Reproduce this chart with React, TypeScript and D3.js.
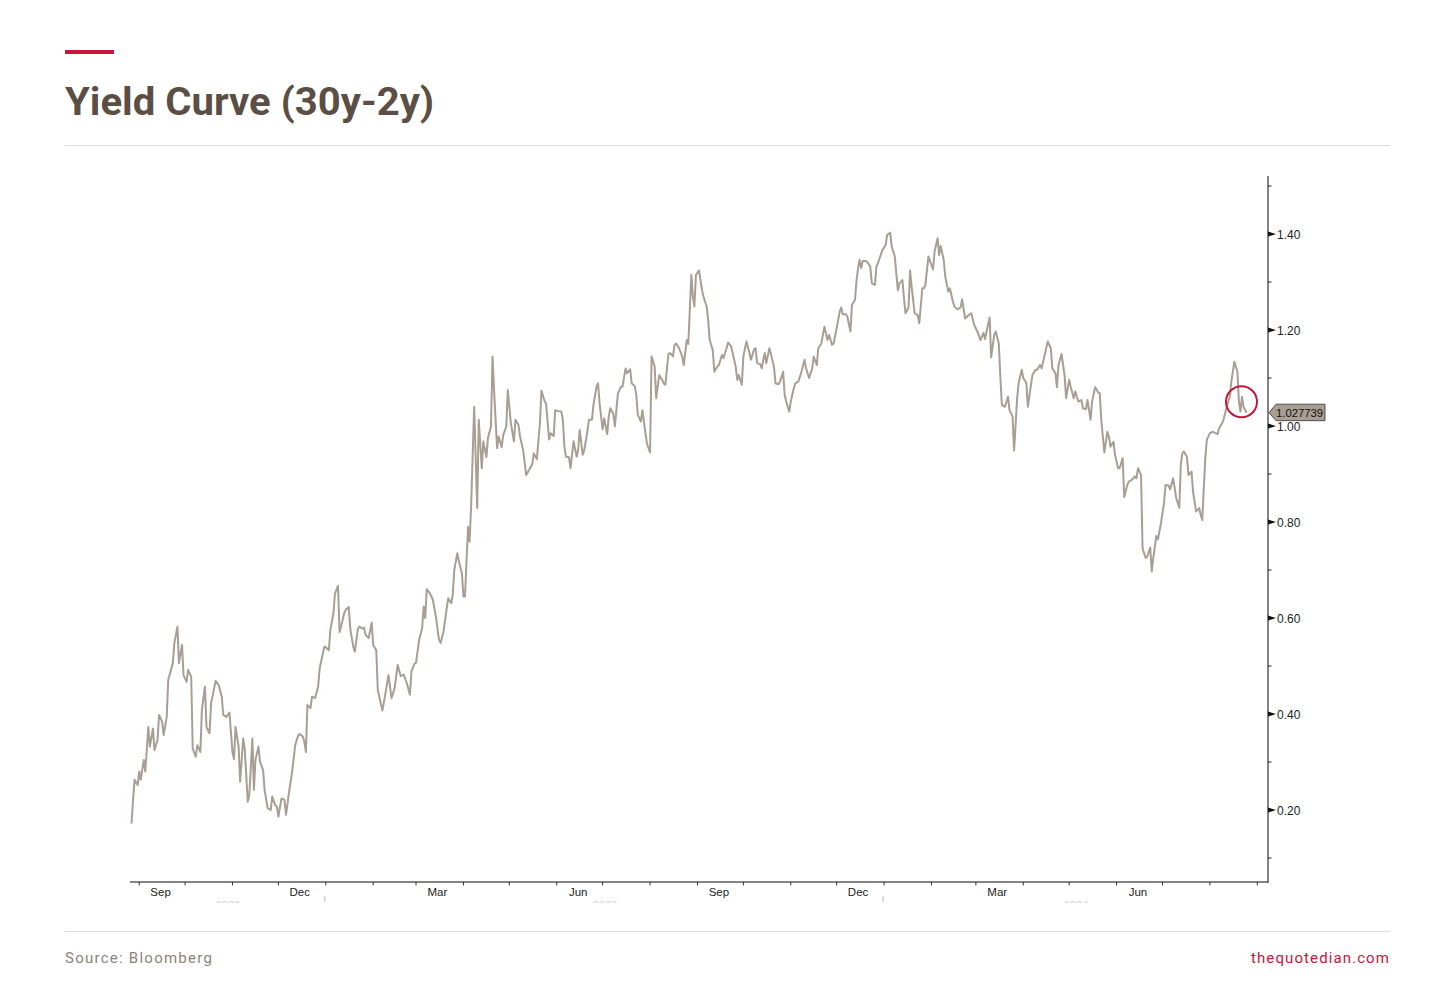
import React from 'react';
import * as d3 from 'd3';

// ---------- DATA ----------
const START_DATE = '2022-08-26';
const END_DATE = '2024-09-08';

// days since START_DATE
const seriesDays = [
  1, 2, 3, 5, 6, 7, 9, 10, 12, 13, 15, 16, 18, 19, 21, 22, 24, 25, 28, 29, 31, 32, 34, 35, 37, 38, 40, 41, 43, 44,
  46, 47, 49, 50, 52, 53, 56, 58, 60, 61, 63, 65, 67, 68, 69, 71, 72, 74, 75, 77, 78, 80, 81, 82, 84, 85, 87, 88, 90, 92,
  93, 95, 96, 97, 99, 101, 102, 104, 106, 108, 110, 111, 113, 114, 115, 116, 118, 119, 121, 123, 124, 127, 128, 130, 131, 133, 134, 136, 137, 138,
  140, 141, 143, 144, 146, 147, 149, 150, 152, 153, 154, 156, 158, 159, 161, 162, 165, 167, 169, 171, 173, 175, 177, 179, 181, 183, 184, 186, 187, 189,
  191, 192, 193, 194, 196, 198, 200, 202, 203, 205, 206, 208, 210, 211, 212, 214, 215, 217, 218, 219, 221, 222, 223, 225, 227, 228, 230, 231, 233, 234,
  236, 237, 238, 240, 241, 243, 244, 246, 247, 249, 251, 252, 254, 255, 257, 259, 261, 263, 264, 266, 268, 269, 271, 272, 274, 275, 277, 278, 280, 282,
  283, 284, 285, 287, 288, 290, 292, 293, 294, 296, 297, 299, 300, 302, 303, 305, 306, 307, 309, 310, 312, 313, 314, 316, 317, 319, 321, 322, 324, 325,
  327, 328, 330, 331, 332, 334, 335, 337, 338, 340, 341, 343, 344, 346, 348, 349, 350, 352, 353, 355, 356, 357, 359, 361, 362, 364, 365, 367, 368, 369,
  370, 372, 374, 375, 377, 378, 379, 381, 382, 384, 385, 387, 388, 390, 391, 393, 394, 396, 397, 398, 400, 401, 403, 405, 406, 408, 409, 410, 412, 413,
  415, 416, 418, 419, 421, 422, 424, 425, 427, 428, 429, 431, 432, 434, 435, 437, 439, 441, 442, 444, 446, 447, 449, 450, 452, 453, 454, 456, 457, 459,
  460, 462, 464, 465, 466, 468, 469, 471, 472, 474, 475, 476, 477, 478, 479, 481, 482, 484, 485, 487, 488, 489, 490, 492, 494, 495, 497, 498, 500, 502,
  503, 505, 506, 507, 509, 510, 511, 513, 514, 515, 516, 518, 519, 520, 522, 523, 525, 526, 528, 529, 530, 532, 533, 535, 536, 538, 539, 541, 543, 544,
  546, 548, 550, 552, 554, 556, 558, 559, 560, 562, 563, 565, 566, 568, 569, 570, 572, 574, 575, 577, 578, 580, 581, 583, 584, 586, 587, 589, 590, 592,
  593, 595, 596, 598, 600, 602, 603, 605, 606, 607, 609, 611, 612, 614, 615, 617, 618, 620, 622, 623, 625, 626, 628, 629, 631, 633, 634, 635, 637, 639,
  640, 641, 643, 644, 646, 647, 649, 650, 652, 653, 655, 657, 658, 659, 661, 662, 664, 665, 667, 668, 669, 671, 672, 674, 676, 677, 679, 680, 682, 684,
  686, 687, 688, 689, 691, 692, 694, 695, 697, 699, 700, 701, 703, 704, 706, 708, 709, 711, 712, 714, 715, 717, 719, 720, 721, 722, 724, 725, 726, 727,
  728, 730,
];

const seriesValues = [
  0.172, 0.221, 0.263, 0.252, 0.28, 0.263, 0.304, 0.28, 0.373, 0.332, 0.37, 0.325, 0.346, 0.398, 0.384, 0.356, 0.394, 0.471, 0.506, 0.547, 0.582, 0.506, 0.544, 0.481, 0.467, 0.492, 0.478, 0.328, 0.311, 0.335,
  0.321, 0.408, 0.457, 0.373, 0.36, 0.422, 0.469, 0.46, 0.436, 0.398, 0.394, 0.403, 0.321, 0.306, 0.373, 0.332, 0.259, 0.349, 0.328, 0.217, 0.231, 0.349, 0.242, 0.304, 0.332, 0.301, 0.283, 0.242, 0.204, 0.2,
  0.228, 0.21, 0.207, 0.186, 0.224, 0.221, 0.19, 0.238, 0.28, 0.335, 0.356, 0.358, 0.353, 0.342, 0.321, 0.419, 0.412, 0.436, 0.433, 0.457, 0.495, 0.54, 0.539, 0.533, 0.575, 0.61, 0.651, 0.667, 0.571, 0.582,
  0.61, 0.617, 0.623, 0.578, 0.54, 0.53, 0.578, 0.582, 0.578, 0.58, 0.565, 0.558, 0.59, 0.544, 0.533, 0.45, 0.407, 0.443, 0.481, 0.433, 0.454, 0.502, 0.479, 0.482, 0.464, 0.44, 0.489, 0.505, 0.507, 0.554,
  0.579, 0.624, 0.6, 0.66, 0.652, 0.638, 0.603, 0.555, 0.548, 0.572, 0.596, 0.641, 0.631, 0.648, 0.7, 0.735, 0.718, 0.693, 0.645, 0.645, 0.79, 0.759, 0.832, 1.04, 0.829, 1.013, 0.912, 0.968, 0.935, 0.975,
  0.999, 1.145, 1.075, 0.954, 0.978, 0.956, 0.981, 0.999, 1.075, 1.006, 0.968, 1.013, 1.002, 0.978, 0.95, 0.898, 0.909, 0.921, 0.943, 0.931, 1.006, 1.074, 1.052, 1.047, 0.972, 0.985, 0.979, 1.033, 1.031, 1.03,
  1.013, 0.957, 0.936, 0.935, 0.912, 0.968, 0.936, 0.95, 0.992, 0.94, 0.95, 0.988, 1.013, 1.013, 1.044, 1.082, 1.089, 1.047, 0.993, 1.016, 0.983, 1.02, 1.037, 1.025, 0.999, 1.068, 1.082, 1.082, 1.12, 1.11,
  1.118, 1.089, 1.083, 1.065, 1.023, 1.009, 1.033, 0.985, 0.963, 0.945, 1.145, 1.124, 1.058, 1.106, 1.096, 1.088, 1.086, 1.15, 1.152, 1.145, 1.169, 1.172, 1.162, 1.145, 1.127, 1.179, 1.171, 1.315, 1.269, 1.249,
  1.315, 1.324, 1.283, 1.269, 1.249, 1.221, 1.179, 1.158, 1.113, 1.124, 1.127, 1.148, 1.141, 1.162, 1.174, 1.166, 1.152, 1.124, 1.096, 1.106, 1.086, 1.145, 1.176, 1.152, 1.138, 1.16, 1.162, 1.131, 1.129, 1.12,
  1.152, 1.131, 1.162, 1.15, 1.124, 1.089, 1.087, 1.093, 1.113, 1.065, 1.051, 1.03, 1.051, 1.079, 1.089, 1.093, 1.113, 1.138, 1.12, 1.1, 1.12, 1.145, 1.127, 1.162, 1.172, 1.19, 1.207, 1.179, 1.19, 1.169,
  1.172, 1.204, 1.238, 1.247, 1.233, 1.233, 1.228, 1.197, 1.252, 1.263, 1.304, 1.329, 1.346, 1.329, 1.344, 1.344, 1.342, 1.332, 1.297, 1.294, 1.332, 1.34, 1.349, 1.367, 1.377, 1.398, 1.403, 1.374, 1.353, 1.283,
  1.297, 1.304, 1.266, 1.235, 1.247, 1.324, 1.29, 1.235, 1.233, 1.231, 1.214, 1.287, 1.287, 1.294, 1.353, 1.344, 1.326, 1.363, 1.391, 1.356, 1.375, 1.346, 1.311, 1.28, 1.287, 1.259, 1.249, 1.243, 1.247, 1.264,
  1.224, 1.23, 1.235, 1.21, 1.197, 1.179, 1.194, 1.181, 1.197, 1.226, 1.143, 1.19, 1.197, 1.172, 1.103, 1.044, 1.04, 1.061, 1.033, 1.02, 0.949, 1.058, 1.09, 1.117, 1.1, 1.09, 1.04, 1.085, 1.106, 1.117,
  1.117, 1.127, 1.12, 1.148, 1.176, 1.162, 1.12, 1.11, 1.081, 1.127, 1.15, 1.106, 1.058, 1.096, 1.082, 1.058, 1.072, 1.051, 1.054, 1.037, 1.035, 1.054, 1.013, 1.051, 1.081, 1.07, 1.068, 1.013, 0.945, 0.988,
  0.978, 0.957, 0.967, 0.94, 0.912, 0.912, 0.933, 0.852, 0.877, 0.884, 0.888, 0.895, 0.891, 0.912, 0.898, 0.745, 0.725, 0.727, 0.747, 0.697, 0.725, 0.771, 0.764, 0.797, 0.839, 0.877, 0.876, 0.868, 0.891, 0.85,
  0.829, 0.919, 0.943, 0.947, 0.936, 0.898, 0.905, 0.863, 0.822, 0.829, 0.815, 0.804, 0.933, 0.971, 0.985, 0.988, 0.986, 0.983, 0.995, 1.006, 1.014, 1.04, 1.061, 1.092, 1.113, 1.134, 1.113, 1.05, 1.03, 1.061,
  1.04, 1.027739,
];

const yMajorTicks = [0.2, 0.4, 0.6, 0.8, 1.0, 1.2, 1.4];
const yMinorTicks = [0.1, 0.3, 0.5, 0.7, 0.9, 1.1, 1.3, 1.5];
const labelledMonths = [8, 11, 2, 5]; // Sep, Dec, Mar, Jun
const lastValueLabel = '1.027739';
const titleText = 'Yield Curve (30y-2y)';
const sourceText = 'Source: Bloomberg';
const siteText = 'thequotedian.com';

// ---------- STYLE ----------
const W = 1456;
const H = 990;
const LINE_COLOR = '#a89e93';
const AXIS_COLOR = '#5a5a5a';
const RED = '#c8153c';
const AXIS_FONT = '"Liberation Sans", Arial, sans-serif';
const UI_FONT = 'Roboto, "Noto Sans", sans-serif';

export default function App() {
  const parse = d3.timeParse('%Y-%m-%d');
  const start = parse(START_DATE) as Date;
  const end = parse(END_DATE) as Date;

  const plotLeft = 130;
  const plotRight = 1268;
  const plotBottom = 882;
  const plotTop = 176;

  const x = d3.scaleTime().domain([start, end]).range([plotLeft, plotRight]);
  const y = d3.scaleLinear().domain([0.05, 1.52]).range([plotBottom, plotTop + 0.4]);

  const data = seriesDays.map((d, i) => ({ date: d3.timeDay.offset(start, d), value: seriesValues[i] }));
  const line = d3
    .line<{ date: Date; value: number }>()
    .x((d) => x(d.date))
    .y((d) => y(d.value));

  const months = d3.timeMonth.range(d3.timeMonth.ceil(start), end);
  const monthLabelDates = d3.timeMonth
    .range(d3.timeMonth.floor(start), end)
    .filter((m) => labelledMonths.includes(m.getMonth()))
    .map((m) => d3.timeDay.offset(m, 14))
    .filter((d) => d >= start && d <= end);
  const fmtMonth = d3.timeFormat('%b');

  const years = d3.timeYear.range(d3.timeYear.ceil(start), end);
  const yearBounds = [start, ...years, end];
  const yearLabels = yearBounds.slice(0, -1).map((b, i) => ({
    text: String(b.getFullYear()),
    cx: (x(b) + x(yearBounds[i + 1])) / 2,
  }));

  const last = data[data.length - 1];
  const ly = y(last.value);
  const tail = data.slice(-6);
  const cx = d3.mean(tail, (d) => x(d.date)) as number;
  const cy = (d3.mean(tail, (d) => y(d.value)) as number) + 1.5;

  return (
    <div style={{ position: 'absolute', left: 0, top: 0 }}>
      <svg width={W} height={H} viewBox={`0 0 ${W} ${H}`} style={{ display: 'block', background: '#fff' }}>
        <defs>
          <clipPath id="yearClip">
            <rect x={0} y={0} width={W} height={903} />
          </clipPath>
        </defs>
        <rect x={0} y={0} width={W} height={H} fill="#fff" />

        {/* header */}
        <rect x={65} y={50} width={49} height={4} fill={RED} />
        <text
          x={65}
          y={115}
          fontFamily={UI_FONT}
          fontWeight={700}
          fontSize={39}
          fill="#5b4f45"
          textLength={369}
          lengthAdjust="spacingAndGlyphs"
        >
          {titleText}
        </text>
        <line x1={65} x2={1390} y1={145.5} y2={145.5} stroke="#dcdcdc" strokeWidth={1} />

        {/* series */}
        <path d={line(data) || ''} fill="none" stroke={LINE_COLOR} strokeWidth={2} strokeLinejoin="round" />

        {/* right axis */}
        <line x1={plotRight} x2={plotRight} y1={plotTop} y2={plotBottom + 1} stroke={AXIS_COLOR} strokeWidth={1.5} />
        {yMinorTicks.map((v) => (
          <line key={`mn${v}`} x1={plotRight} x2={plotRight + 3.5} y1={y(v)} y2={y(v)} stroke="#222" strokeWidth={1} />
        ))}
        {yMajorTicks.map((v) => (
          <g key={`mj${v}`}>
            <path
              d={`M${plotRight},${y(v) - 2.5}L${plotRight + 8},${y(v)}L${plotRight},${y(v) + 2.5}Z`}
              fill="#111"
            />
            <text
              x={plotRight + 9}
              y={y(v) + 4.5}
              fontFamily={AXIS_FONT}
              fontSize={12}
              fill="#222"
            >
              {d3.format('.2f')(v)}
            </text>
          </g>
        ))}

        {/* bottom axis */}
        <line x1={plotLeft} x2={plotRight} y1={plotBottom} y2={plotBottom} stroke={AXIS_COLOR} strokeWidth={1.5} />
        {months.map((m) => (
          <line
            key={`mt${m.getTime()}`}
            x1={x(m)}
            x2={x(m)}
            y1={plotBottom}
            y2={plotBottom + 3.5}
            stroke="#333"
            strokeWidth={1}
          />
        ))}
        {monthLabelDates.map((d) => (
          <text
            key={`ml${d.getTime()}`}
            x={x(d)}
            y={896}
            textAnchor="middle"
            fontFamily={AXIS_FONT}
            fontSize={11.5}
            fill="#222"
          >
            {fmtMonth(d)}
          </text>
        ))}
        {years.map((yb) => (
          <line
            key={`yb${yb.getTime()}`}
            x1={x(yb) - 1}
            x2={x(yb) - 1}
            y1={896}
            y2={902}
            stroke="#bbb"
            strokeWidth={1}
          />
        ))}
        <g clipPath="url(#yearClip)">
          {yearLabels.map((yl) => (
            <text
              key={yl.text}
              x={yl.cx}
              y={909}
              textAnchor="middle"
              fontFamily={AXIS_FONT}
              fontSize={11}
              fill="#d4d4d4"
            >
              {yl.text}
            </text>
          ))}
        </g>

        {/* last value tag */}
        <path
          d={`M${plotRight + 1},${ly}L${plotRight + 8},${ly - 8.5}L${plotRight + 57},${ly - 8.5}L${plotRight + 57},${ly + 8}L${plotRight + 8},${ly + 8}Z`}
          fill="#a89e92"
          stroke="#333"
          strokeWidth={0.8}
        />
        <text x={plotRight + 8} y={ly + 4.2} fontFamily={AXIS_FONT} fontSize={11.3} fill="#111">
          {lastValueLabel}
        </text>

        {/* highlight circle */}
        <circle cx={cx} cy={cy} r={15.5} fill="none" stroke={RED} strokeWidth={2} />

        {/* footer */}
        <line x1={65} x2={1390} y1={931.5} y2={931.5} stroke="#dcdcdc" strokeWidth={1} />
        <text x={65} y={963} fontFamily={UI_FONT} fontSize={15} letterSpacing={1.25} fill="#8c837a">
          {sourceText}
        </text>
        <text
          x={1390}
          y={963}
          textAnchor="end"
          fontFamily={UI_FONT}
          fontSize={15}
          letterSpacing={1.1}
          fill={RED}
        >
          {siteText}
        </text>
      </svg>
    </div>
  );
}
